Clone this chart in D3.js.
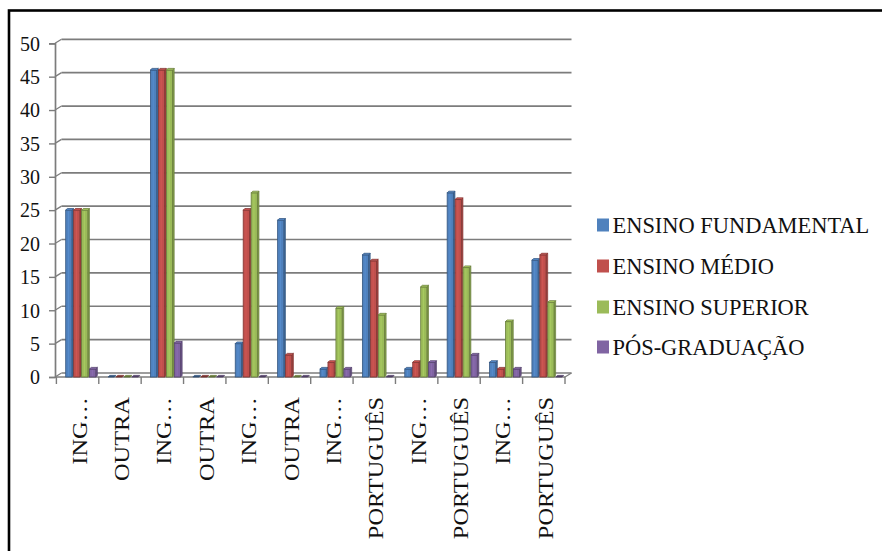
<!DOCTYPE html>
<html>
<head>
<meta charset="utf-8">
<script src="https://cdn.jsdelivr.net/npm/d3@7"></script>
<style>
  html, body { margin: 0; padding: 0; background: #fff; }
  svg { display: block; }
</style>
</head>
<body>
<svg id="chart" width="882" height="551"></svg>
<script>
// Categories (language groups) along the x axis
const categories = ["ING…", "OUTRA", "ING…", "OUTRA", "ING…", "OUTRA",
                    "ING…", "PORTUGUÊS", "ING…", "PORTUGUÊS", "ING…", "PORTUGUÊS"];

// Series names and values
const seriesNames = ["ENSINO FUNDAMENTAL", "ENSINO MÉDIO", "ENSINO SUPERIOR", "PÓS-GRADUAÇÃO"];
const ensinoFundamental = [25, 0, 46, 0, 5, 23.5, 1.2, 18.3, 1.2, 27.6, 2.2, 17.5];
const ensinoMedio       = [25, 0, 46, 0, 25, 3.3, 2.2, 17.4, 2.2, 26.6, 1.2, 18.3];
const ensinoSuperior    = [25, 0, 46, 0, 27.6, 0, 10.3, 9.3, 13.5, 16.4, 8.3, 11.2];
const posGraduacao      = [1.2, 0, 5.1, 0, 0, 0, 1.2, 0, 2.2, 3.3, 1.2, 0];
const seriesValues = [ensinoFundamental, ensinoMedio, ensinoSuperior, posGraduacao];

// Y axis tick labels
const yTicks = [0, 5, 10, 15, 20, 25, 30, 35, 40, 45, 50];

const colors = ["#4F81BD", "#C0504D", "#9BBB59", "#8064A2"];
const serif = "'Liberation Serif'";

const svg = d3.select("#chart");

// Outer frame
svg.append("rect")
  .attr("x", 9).attr("y", 10.5).attr("width", 900).attr("height", 600)
  .attr("fill", "none").attr("stroke", "#000").attr("stroke-width", 2.6);

// Plot geometry
const x0 = 56.4, x1 = 565;
const yBase = 377, yTop = 43.3;
const depth = { dx: 6.5, dy: -4 };
const gridColor = "#7c7c7c";

const x = d3.scaleBand().domain(d3.range(categories.length)).range([x0, x1]).padding(0);
const xs = d3.scaleBand().domain(d3.range(seriesNames.length))
  .range([9.3, 9.3 + 4 * 7.8]).paddingInner(0.08).paddingOuter(0);
const y = d3.scaleLinear().domain([0, 50]).range([yBase, yTop]);

const grid = svg.append("g");
// Back-wall gridlines with diagonal connectors to the axis
yTicks.forEach(t => {
  const yy = y(t);
  grid.append("line")
    .attr("x1", x0 - 1.4 + depth.dx).attr("x2", x1 + depth.dx)
    .attr("y1", yy + depth.dy).attr("y2", yy + depth.dy)
    .attr("stroke", gridColor).attr("stroke-width", 1.7);
  grid.append("line")
    .attr("x1", x0 - 1.4).attr("x2", x0 - 1.4 + depth.dx)
    .attr("y1", yy).attr("y2", yy + depth.dy)
    .attr("stroke", gridColor).attr("stroke-width", 1.3);
});
// Floor front edge and right connector
grid.append("line")
  .attr("x1", x0 - 1.4).attr("x2", x1).attr("y1", yBase).attr("y2", yBase)
  .attr("stroke", gridColor).attr("stroke-width", 1.7);
grid.append("line")
  .attr("x1", x1).attr("x2", x1 + depth.dx).attr("y1", yBase).attr("y2", yBase + depth.dy)
  .attr("stroke", gridColor).attr("stroke-width", 1.3);

// Y axis
const yAxis = d3.axisLeft(y).tickValues(yTicks).tickSize(6).tickPadding(9).tickFormat(d3.format("d"));
const yg = svg.append("g").attr("transform", `translate(${x0 - 1.4},0)`).call(yAxis);
yg.select(".domain").attr("stroke", gridColor).attr("stroke-width", 1.7);
yg.selectAll(".tick line").attr("stroke", gridColor).attr("stroke-width", 1.4);
yg.selectAll(".tick text")
  .style("font-family", serif).style("font-size", "20px").attr("fill", "#111")
  .attr("dy", "0.34em");

// X axis ticks and rotated labels
const xAxis = d3.axisBottom(x).tickSize(0).tickFormat(i => categories[i]);
const xg = svg.append("g").attr("transform", `translate(0,${yBase})`).call(xAxis);
xg.select(".domain").remove();
d3.range(categories.length + 1).forEach(i => {
  const xx = i < categories.length ? x(i) : x1;
  xg.append("line").attr("x1", xx).attr("x2", xx).attr("y1", 0).attr("y2", 7)
    .attr("stroke", gridColor).attr("stroke-width", 1.4);
});
xg.selectAll(".tick text")
  .style("font-family", serif).style("font-size", "20px").attr("fill", "#111")
  .attr("text-anchor", "end")
  .attr("dy", null)
  .attr("y", 0)
  .attr("transform", `translate(9,20) rotate(-90) scale(1.22,1)`);

// 3D-style columns
const bars = svg.append("g");
const cap = 1.6, fw = 6.2;
seriesValues.forEach((vals, s) => {
  const base = d3.color(colors[s]);
  const dark = base.darker(1.1).formatHex();
  const side = base.darker(0.5).formatHex();
  const top = base.brighter(0.4).formatHex();
  vals.forEach((v, i) => {
    const bx = x(i) + xs(s);
    const by = y(v);
    const g = bars.append("g");
    if (v > 0) {
      g.append("path")
        .attr("d", `M${bx + fw},${by} L${bx + fw + cap},${by - cap} L${bx + fw + cap},${yBase - cap} L${bx + fw},${yBase} Z`)
        .attr("fill", side).attr("stroke", dark).attr("stroke-width", 0.7);
      g.append("rect")
        .attr("x", bx).attr("y", by).attr("width", fw).attr("height", yBase - by)
        .attr("fill", colors[s]).attr("stroke", dark).attr("stroke-width", 0.8);
      g.append("line")
        .attr("x1", bx + fw * 0.45).attr("x2", bx + fw * 0.45)
        .attr("y1", by + 1).attr("y2", yBase - 1)
        .attr("stroke", top).attr("stroke-width", 1.2).attr("opacity", 0.5);
    }
    g.append("path")
      .attr("d", `M${bx},${by} L${bx + fw},${by} L${bx + fw + cap},${by - cap} L${bx + cap},${by - cap} Z`)
      .attr("fill", v > 0 ? top : base.darker(1.5).formatHex())
      .attr("stroke", dark).attr("stroke-width", 0.8);
  });
});

// Legend
const legend = svg.append("g");
const rowY = [225, 266, 307, 347];
seriesNames.forEach((name, s) => {
  legend.append("rect")
    .attr("x", 597).attr("y", rowY[s] - 6.5).attr("width", 12).attr("height", 13)
    .attr("fill", colors[s]);
  legend.append("text")
    .attr("transform", `translate(612.5,${rowY[s] + 8}) scale(0.935,1)`)
    .style("font-family", serif).style("font-size", "24px")
    .attr("fill", "#111")
    .text(name);
});
</script>
</body>
</html>
